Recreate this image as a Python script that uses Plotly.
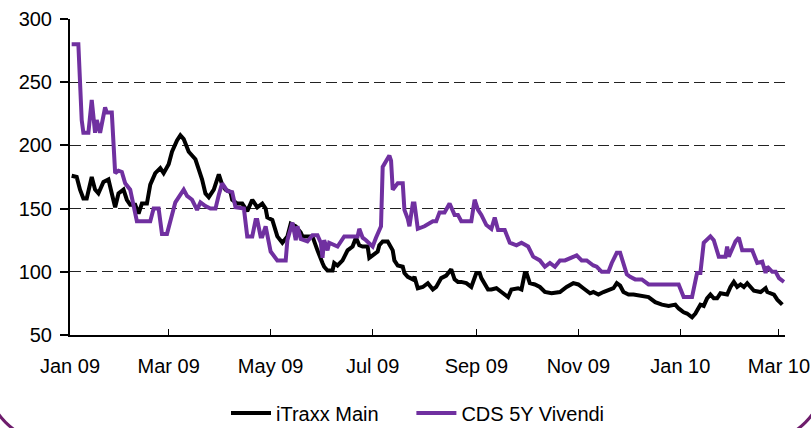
import pandas as pd
import plotly.graph_objects as go

# Days since 1 Jan 2009, values in bp
itraxx_days = [1, 4, 6, 8, 10, 13, 15, 17, 20, 23, 25, 27, 29, 32, 34, 36, 39, 41, 43, 46,
               48, 51, 54, 56, 59, 61, 64, 66, 68, 69, 71, 73, 75, 77, 79, 81, 83, 86, 88, 89,
               91, 93, 96, 97, 100, 103, 106, 108, 109, 112, 115, 117, 118, 121, 124, 127, 130, 132, 135, 138,
               139, 145, 147, 148, 151, 152, 154, 157, 158, 160, 163, 166, 169, 171, 173, 175, 178, 179, 181, 184,
               185, 187, 190, 193, 194, 196, 199, 200, 202, 205, 206, 208, 211, 214, 217, 219, 222, 225, 228, 230,
               232, 234, 237, 240, 243, 245, 246, 248, 250, 252, 255, 258, 262, 264, 268, 270, 272, 273, 275, 278,
               281, 284, 288, 293, 297, 301, 304, 307, 311, 313, 316, 319, 323, 325, 327, 329, 331, 334, 337, 341,
               346, 350, 354, 358, 362, 364, 367, 369, 372, 374, 377, 379, 381, 383, 385, 387, 389, 393, 395, 397,
               399, 401, 403, 405, 407, 409, 413, 416, 417, 421, 423, 426]
itraxx_vals = [176, 175, 165, 158, 158, 175, 165, 162, 171, 173, 162, 151, 162, 165, 157, 153, 153, 146, 154, 154,
               169, 178, 182, 178, 185, 195, 204, 208, 205, 202, 195, 192, 189, 181, 173, 162, 159, 165, 173, 177,
               169, 165, 163, 157, 154, 154, 148, 154, 157, 151, 154, 150, 143, 141, 128, 123, 128, 138, 136, 131,
               128, 128, 120, 117, 107, 104, 101, 101, 107, 105, 109, 117, 120, 127, 121, 120, 120, 111, 113, 116,
               121, 124, 124, 117, 109, 105, 104, 99, 96, 94, 96, 87, 88, 91, 86, 88, 95, 97, 102, 94,
               92, 92, 91, 88, 99, 99, 95, 91, 86, 86, 87, 84, 80, 86, 87, 86, 99, 99, 91, 90,
               88, 84, 83, 84, 88, 91, 90, 87, 83, 84, 82, 84, 86, 87, 91, 89, 84, 82, 82, 81,
               80, 76, 74, 73, 74, 71, 68, 67, 64, 67, 74, 73, 79, 82, 79, 79, 83, 82, 88, 92,
               88, 90, 88, 91, 88, 85, 84, 87, 84, 82, 78, 74]

cds_days = [1, 5, 7, 8, 11, 13, 15, 16, 18, 21, 22, 25, 27, 29, 31, 33, 36, 40, 48, 50,
            53, 55, 58, 61, 63, 68, 70, 73, 76, 78, 81, 84, 87, 89, 91, 94, 97, 99, 104, 106,
            109, 111, 112, 114, 115, 117, 118, 120, 124, 129, 130, 133, 135, 136, 138, 142, 145, 148, 150, 151,
            152, 154, 155, 160, 164, 172, 173, 175, 177, 181, 183, 186, 187, 189, 191, 192, 193, 196, 199, 200,
            202, 203, 205, 206, 208, 212, 217, 219, 221, 224, 227, 230, 232, 234, 240, 242, 244, 246, 249, 252,
            254, 256, 260, 263, 267, 270, 274, 277, 281, 284, 287, 290, 293, 296, 299, 303, 306, 309, 313, 315,
            318, 322, 324, 327, 329, 331, 333, 335, 338, 342, 346, 364, 367, 372, 375, 377, 379, 383, 385, 388,
            392, 393, 394, 397, 398, 400, 402, 408, 411, 414, 416, 417, 420, 422, 424, 427]
cds_vals = [280, 280, 220, 210, 210, 236, 210, 220, 210, 230, 226, 226, 178, 180, 179, 170, 165, 140, 140, 150,
            150, 130, 130, 145, 155, 165, 160, 157, 149, 155, 152, 150, 150, 161, 170, 164, 163, 151, 150, 128,
            128, 141, 141, 128, 128, 136, 130, 116, 109, 109, 125, 139, 125, 136, 126, 124, 129, 129, 123, 111,
            125, 117, 123, 120, 128, 128, 134, 127, 125, 120, 127, 136, 183, 188, 192, 188, 165, 170, 170, 149,
            142, 136, 154, 154, 134, 136, 140, 140, 147, 147, 154, 145, 145, 140, 140, 157, 149, 145, 137, 134,
            143, 133, 133, 123, 121, 123, 120, 112, 109, 104, 107, 104, 109, 109, 111, 113, 109, 109, 105, 104,
            100, 100, 107, 115, 115, 107, 98, 96, 94, 94, 90, 90, 80, 80, 99, 99, 123, 128, 125, 112,
            112, 120, 112, 121, 124, 127, 117, 117, 107, 108, 99, 104, 100, 100, 95, 92]

y_ticks = [50, 100, 150, 200, 250, 300]
x_tickvals = ["2009-01-01", "2009-03-01", "2009-05-01", "2009-07-01", "2009-09-01",
              "2009-11-01", "2010-01-01", "2010-03-01"]
x_ticktext = ["Jan 09", "Mar 09", "May 09", "Jul 09", "Sep 09", "Nov 09", "Jan 10", "Mar 10"]

start = pd.Timestamp("2009-01-01")
itraxx_dates = [start + pd.Timedelta(days=d) for d in itraxx_days]
cds_dates = [start + pd.Timedelta(days=d) for d in cds_days]

FONT = "Liberation Sans, Arial, sans-serif"
PAD = "\u00a0" * 5

fig = go.Figure()
fig.add_trace(go.Scatter(x=itraxx_dates, y=itraxx_vals, mode="lines", name="iTraxx Main" + PAD,
                         line=dict(color="#000000", width=4)))
fig.add_trace(go.Scatter(x=cds_dates, y=cds_vals, mode="lines", name="CDS 5Y Vivendi",
                         line=dict(color="#7030A0", width=4)))

W, H = 811, 428
ML, MR, MT, MB = 70, 26, 19, 93
PW, PH = W - ML - MR, H - MT - MB


def px(xp, yp):
    return (xp - ML) / PW, (H - MB - yp) / PH


def pt(xp, yp):
    a, b = px(xp, yp)
    return f"{a:.5f},{b:.5f}"


R = 60
k = 0.5523 * R
path = (f"M {pt(-12, 300)} L {pt(-12, 380)} "
        f"C {pt(-12, 380 + k)} {pt(48 - k, 440)} {pt(48, 440)} "
        f"L {pt(763, 440)} "
        f"C {pt(763 + k, 440)} {pt(823, 380 + k)} {pt(823, 380)} "
        f"L {pt(823, 300)}")

fig.update_layout(
    width=W, height=H,
    margin=dict(l=ML, r=MR, t=MT, b=MB, autoexpand=False),
    paper_bgcolor="white", plot_bgcolor="white",
    font=dict(family=FONT, size=20, color="#000000"),
    showlegend=True,
    legend=dict(orientation="h", x=px(226, 0)[0], xanchor="left", y=px(0, 413)[1], yanchor="middle",
                font=dict(family=FONT, size=20, color="#000000"),
                itemwidth=40, tracegroupgap=0, bgcolor="rgba(0,0,0,0)"),
    shapes=[dict(type="path", xref="paper", yref="paper", path=path,
                 line=dict(color="#6E1D6C", width=3), layer="above")],
    xaxis=dict(
        type="date",
        range=[start, start + pd.Timedelta(days=427.6)],
        tickvals=x_tickvals, ticktext=x_ticktext,
        ticks="inside", ticklen=6, tickwidth=1, tickcolor="#000000",
        showline=True, linecolor="#000000", linewidth=2,
        showgrid=False, zeroline=False,
        ticklabelstandoff=12,
        tickfont=dict(family=FONT, size=20, color="#000000"),
    ),
    yaxis=dict(
        range=[50, 300], tickvals=y_ticks,
        ticks="outside", ticklen=8, tickwidth=1.5, tickcolor="#000000",
        showline=True, linecolor="#000000", linewidth=2,
        showgrid=True, gridcolor="#222222", gridwidth=1.4, griddash="11px,5px",
        zeroline=False,
        ticklabelstandoff=4,
        tickfont=dict(family=FONT, size=20, color="#000000"),
    ),
)

fig.write_html("out.html", config={"displayModeBar": False},
               post_script="document.body.style.margin='0';document.body.style.padding='0';"
                           "document.documentElement.style.overflow='hidden';")
